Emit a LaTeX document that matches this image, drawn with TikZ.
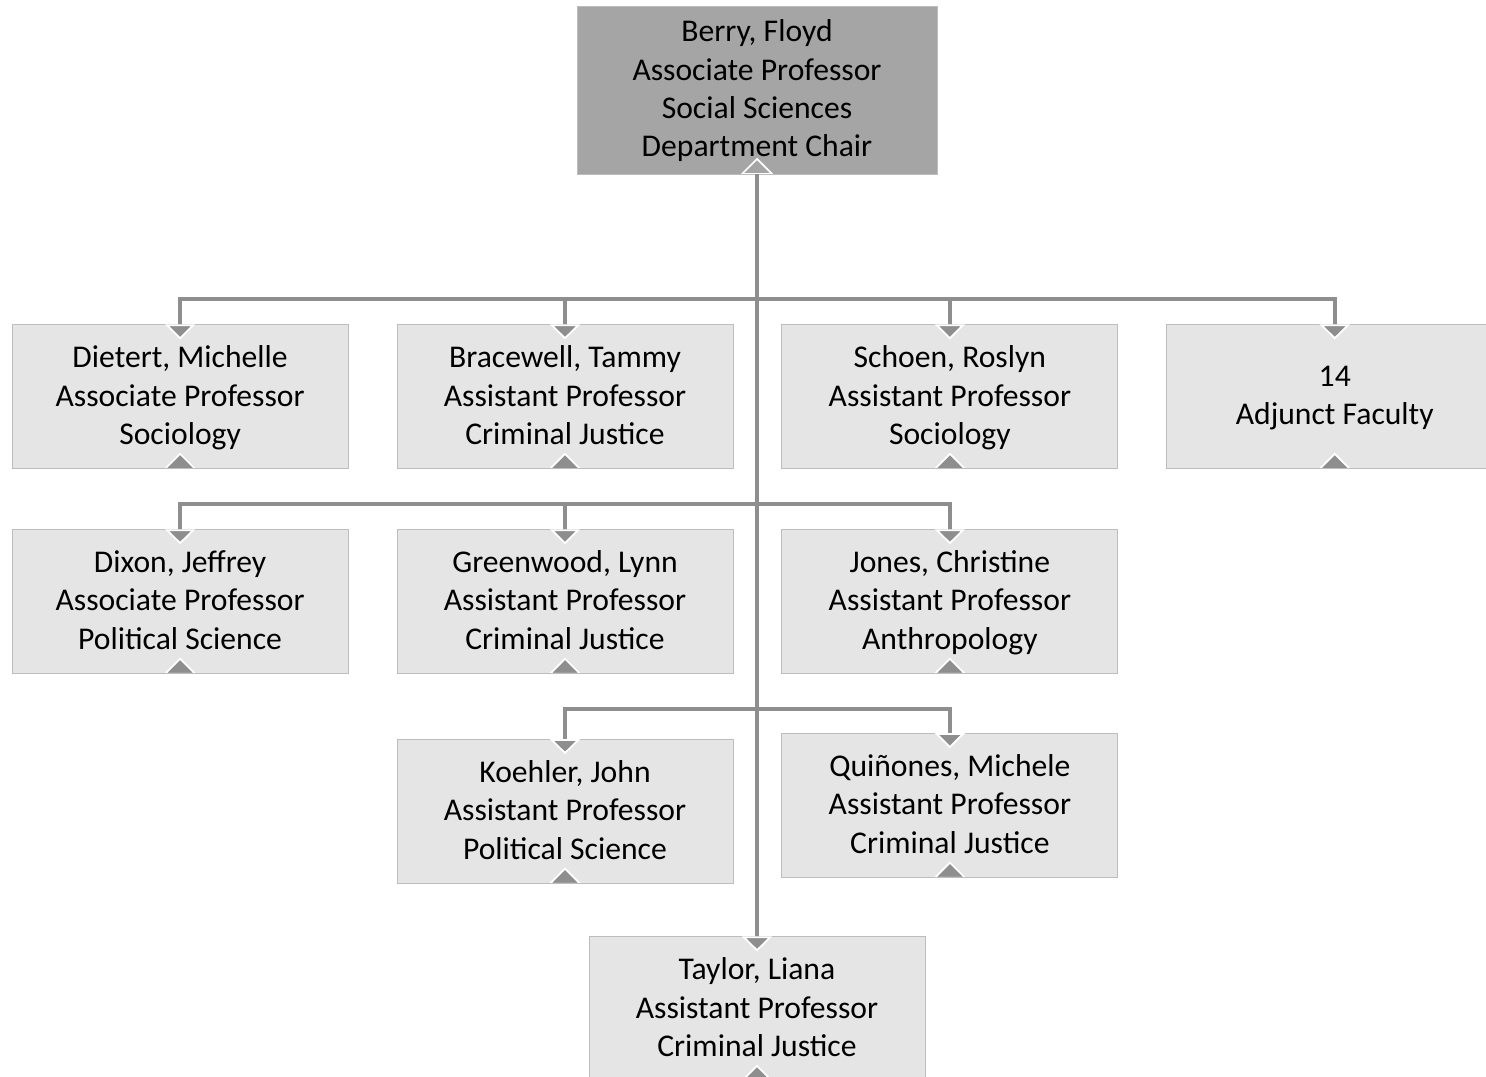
\documentclass[tikz,border=0pt]{standalone}
\usepackage{fontspec}
\setmainfont{Carlito}
\usepackage{xcolor}
\usepackage{tikz}
\usetikzlibrary{arrows.meta,positioning}
\definecolor{linkgrey}{HTML}{8E8E8E}
\definecolor{boxgrey}{HTML}{E5E5E5}
\definecolor{headgrey}{HTML}{A5A5A5}
\definecolor{rimgrey}{HTML}{BDBDBD}

\begin{document}
\begin{tikzpicture}
                \tikzstyle{block} = [draw=rimgrey, line width=0.5pt, fill=boxgrey, rectangle, align=center, inner sep=0pt, minimum width=6.72cm, minimum height=2.88cm, font=\fontsize{18pt}{21.8pt}\selectfont, text depth=2pt, path picture={\filldraw[fill=linkgrey, draw=white, line width=1pt] ([xshift=-0.3cm]path picture bounding box.south) -- ++(0.3,0.3) -- ++(0.3,-0.3) -- cycle;}]
                \tikzstyle{link} = [draw=linkgrey, line width=2.3pt, -{Triangle[width=0.6cm, length=0.3cm, fill=linkgrey, color=white, line width=1pt]}, shorten >=-0.3cm]

                \useasboundingbox (0,0) rectangle (29.72,-21.54);

                \node [block, fill=headgrey, minimum width=7.2cm, minimum height=3.36cm, path picture={\filldraw[fill=headgrey, draw=white, line width=1pt] ([xshift=-0.3cm]path picture bounding box.south) -- ++(0.3,0.3) -- ++(0.3,-0.3) -- cycle;}] (root) at (15.14,-1.8) {Berry, Floyd\\Associate Professor\\Social Sciences\\Department Chair};
                \node [block, below = 3cm of root, xshift=-3.84cm] (bracewell) {Bracewell, Tammy\\Assistant Professor\\Criminal Justice};
                \node [block, left = 0.96cm of bracewell] (dietert) {Dietert, Michelle\\Associate Professor\\Sociology};
                \node [block, right = 0.96cm of bracewell] (schoen) {Schoen, Roslyn\\Assistant Professor\\Sociology};
                \node [block, right = 0.96cm of schoen] (adjunct) {14\\Adjunct Faculty};
                \node [block, below = 1.2cm of dietert] (dixon) {Dixon, Jeffrey\\Associate Professor\\Political Science};
                \node [block, below = 1.2cm of bracewell] (greenwood) {Greenwood, Lynn\\Assistant Professor\\Criminal Justice};
                \node [block, below = 1.2cm of schoen] (jones) {Jones, Christine\\Assistant Professor\\Anthropology};
                \node [block, below = 1.3cm of greenwood] (koehler) {Koehler, John\\Assistant Professor\\Political Science};
                \node [block, below = 1.18cm of jones] (quinones) {Quiñones, Michele\\Assistant Professor\\Criminal Justice};
                \node [block, below = 15.24cm of root] (taylor) {Taylor, Liana\\Assistant Professor\\Criminal Justice};

                \draw [link] (root) |- ([yshift=5mm]dietert.north) -- (dietert);
                \draw [link] (root) |- ([yshift=5mm]bracewell.north) -- (bracewell);
                \draw [link] (root) |- ([yshift=5mm]schoen.north) -- (schoen);
                \draw [link] (root) |- ([yshift=5mm]adjunct.north) -- (adjunct);
                \draw [link] (root) |- ([yshift=5mm]dixon.north) -- (dixon);
                \draw [link] (root) |- ([yshift=5mm]greenwood.north) -- (greenwood);
                \draw [link] (root) |- ([yshift=5mm]jones.north) -- (jones);
                \draw [link] (root) |- ([yshift=6mm]koehler.north) -- (koehler);
                \draw [link] (root) |- ([yshift=4.8mm]quinones.north) -- (quinones);
                \draw [link] (root) -- (taylor);
\end{tikzpicture}
\end{document}
